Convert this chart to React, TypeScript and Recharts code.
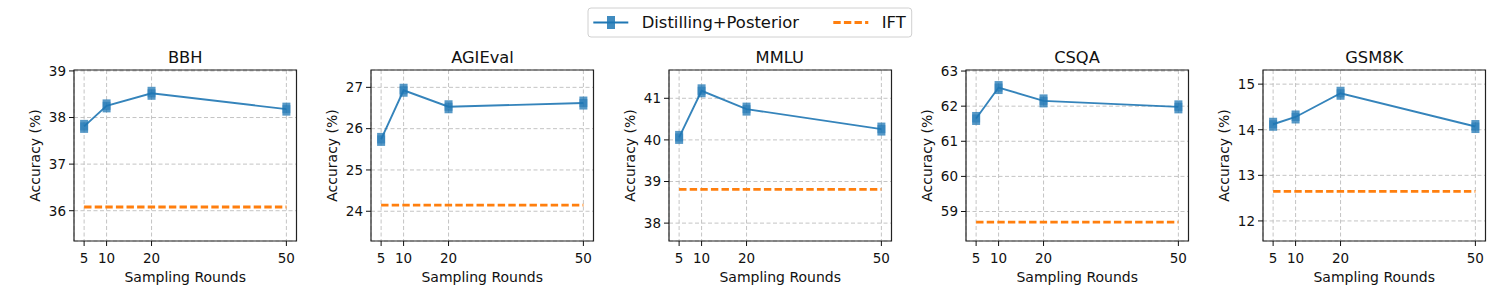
import React from "react";
import {
  LineChart,
  Line,
  XAxis,
  YAxis,
  CartesianGrid,
  ReferenceArea
} from "recharts";

const rounds = [5, 10, 20, 50];
const benchmarks = ["BBH", "AGIEval", "MMLU", "CSQA", "GSM8K"];

const bbhScores = [37.81, 38.25, 38.52, 38.18];
const agievalScores = [25.74, 26.93, 26.53, 26.62];
const mmluScores = [40.06, 41.18, 40.74, 40.26];
const csqaScores = [61.65, 62.53, 62.15, 61.98];
const gsm8kScores = [14.12, 14.28, 14.8, 14.07];

const iftScores = [36.08, 24.15, 38.81, 58.7, 12.65];

const yTicks = [
  [36, 37, 38, 39],
  [24, 25, 26, 27],
  [38, 39, 40, 41],
  [59, 60, 61, 62, 63],
  [12, 13, 14, 15]
];
const yLimits: [number, number][] = [
  [35.35, 39.02],
  [23.28, 27.42],
  [37.57, 41.68],
  [58.16, 63.03],
  [11.56, 15.31]
];
const xLimits: [number, number] = [2.75, 52.25];

const allScores = [bbhScores, agievalScores, mmluScores, csqaScores, gsm8kScores];

const FONT = "'DejaVu Sans', sans-serif";
const BLUE = "#1f77b4";
const ORANGE = "#ff7f0e";

const PLOT_W = 222.5;
const AXIS_W = 70;
const TOP = 70;
const X_AXIS_H = 59;

const Marker = (props: any) => {
  const { cx, cy } = props;
  if (cx == null || cy == null) return null;
  return (
    <g>
      <rect x={cx - 4} y={cy - 6.5} width={8} height={13} fill={BLUE} fillOpacity={0.75} />
      <rect x={cx - 4} y={cy - 4} width={8} height={8} fill={BLUE} fillOpacity={0.55} />
    </g>
  );
};

const YLabel = (props: any) => {
  const vb = props.viewBox || {};
  const x = vb.x + 31;
  const y = vb.y + vb.height / 2;
  return (
    <text
      x={x}
      y={y}
      transform={`rotate(-90, ${x}, ${y})`}
      textAnchor="middle"
      dominantBaseline="central"
      fontSize={14}
      fontFamily={FONT}
      fill="#111"
    >
      Accuracy (%)
    </text>
  );
};

const XLabel = (props: any) => {
  const vb = props.viewBox || {};
  return (
    <text
      x={vb.x + vb.width / 2}
      y={vb.y + 35.7}
      textAnchor="middle"
      dominantBaseline="central"
      fontSize={14}
      fontFamily={FONT}
      fill="#111"
    >
      Sampling Rounds
    </text>
  );
};

function Panel({ index }: { index: number }) {
  const plotLeft = 74 + index * 297.25;
  const data = rounds.map((r, i) => ({
    round: r,
    score: allScores[index][i],
    ift: iftScores[index]
  }));
  const [y0, y1] = yLimits[index];
  const tickStyle = { fontSize: 13.5, fill: "#111", fontFamily: FONT };

  return (
    <>
      <div
        style={{
          position: "absolute",
          left: plotLeft,
          top: 48,
          width: PLOT_W,
          height: 20,
          lineHeight: "20px",
          fontSize: 16.3,
          fontFamily: FONT,
          textAlign: "center",
          color: "#111"
        }}
      >
        {benchmarks[index]}
      </div>
      <div style={{ position: "absolute", left: plotLeft - AXIS_W, top: 0 }}>
        <LineChart
          width={AXIS_W + PLOT_W + 4}
          height={300}
          data={data}
          margin={{ top: TOP, right: 4, left: 0, bottom: 0 }}
        >
          <CartesianGrid stroke="#bdbdbd" strokeDasharray="4 2.5" strokeWidth={0.9} />
          <XAxis
            dataKey="round"
            type="number"
            domain={xLimits}
            ticks={rounds}
            interval={0}
            allowDataOverflow
            height={X_AXIS_H}
            axisLine={false}
            tickSize={5}
            tickMargin={7}
            tickLine={{ stroke: "#111" }}
            tick={tickStyle}
            label={<XLabel />}
          />
          <YAxis
            type="number"
            domain={[y0, y1]}
            ticks={yTicks[index]}
            interval={0}
            allowDataOverflow
            width={AXIS_W}
            axisLine={false}
            tickSize={5}
            tickMargin={3}
            tickLine={{ stroke: "#111" }}
            tick={tickStyle}
            label={<YLabel />}
          />
          <Line
            dataKey="ift"
            stroke={ORANGE}
            strokeWidth={2.8}
            strokeDasharray="7.4 3.2"
            dot={false}
            activeDot={false}
            isAnimationActive={false}
          />
          <Line
            dataKey="score"
            stroke={BLUE}
            strokeOpacity={0.9}
            strokeWidth={1.9}
            dot={<Marker />}
            activeDot={false}
            isAnimationActive={false}
          />
          <ReferenceArea
            x1={xLimits[0]}
            x2={xLimits[1]}
            y1={y0}
            y2={y1}
            fill="none"
            stroke="#222"
            strokeWidth={1.2}
            ifOverflow="visible"
          />
        </LineChart>
      </div>
    </>
  );
}

function Legend() {
  return (
    <svg
      width={330}
      height={36}
      style={{ position: "absolute", left: 586, top: 6 }}
    >
      <rect x={2} y={2} width={323.7} height={29} rx={3} fill="#fff" stroke="#d0d0d0" />
      <line x1={7.3} y1={16.5} x2={42.3} y2={16.5} stroke={BLUE} strokeWidth={1.9} />
      <rect x={21} y={10} width={8} height={13} fill={BLUE} fillOpacity={0.85} />
      <text x={55.7} y={16.5} dominantBaseline="central" fontSize={16.4} fontFamily={FONT} fill="#111">
        Distilling+Posterior
      </text>
      <line
        x1={247.3}
        y1={16.5}
        x2={282.3}
        y2={16.5}
        stroke={ORANGE}
        strokeWidth={2.8}
        strokeDasharray="7.4 3.2"
      />
      <text x={295.7} y={16.5} dominantBaseline="central" fontSize={16.4} fontFamily={FONT} fill="#111">
        IFT
      </text>
    </svg>
  );
}

export default function App() {
  return (
    <div
      style={{
        position: "absolute",
        left: 0,
        top: 0,
        width: 1500,
        height: 300,
        background: "#fff",
        overflow: "hidden"
      }}
    >
      {benchmarks.map((_, i) => (
        <Panel key={i} index={i} />
      ))}
      <Legend />
    </div>
  );
}
